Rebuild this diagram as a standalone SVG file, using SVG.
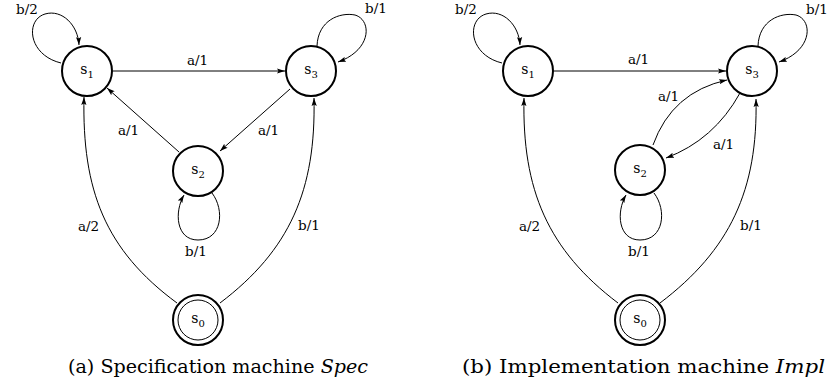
<svg xmlns="http://www.w3.org/2000/svg" width="830" height="387" viewBox="0 0 830 387">
<style>
  .st { fill: #fff; stroke: #000; stroke-width: 2; }
  .inner { fill: none; stroke: #000; stroke-width: 1; }
  .e { fill: none; stroke: #000; stroke-width: 1; marker-end: url(#ah); }
  .lb { font-size: 13.5px; }
  .nm { font-size: 14px; text-anchor: middle; }
  .sub { font-size: 10px; }
  .cap { font-size: 18.5px; }
</style>
<defs>
  <marker id="ah" viewBox="0 0 8 6" refX="8" refY="3" markerWidth="8" markerHeight="6" orient="auto" markerUnits="userSpaceOnUse">
    <path d="M0,0.4 L8,3 L0,5.6 L1.5,3 z" fill="#000"/>
  </marker>
</defs>
<rect width="830" height="387" fill="#fff"/>

<g id="connectors">
  <!-- (a) Spec -->
  <path class="e" d="M61,63 C28,55 25,20 45,14 C62,9 78,25 79,45"/>
  <path class="e" d="M113,71 L285,71"/>
  <path class="e" d="M317,46 C318,20 340,12 355,15 C372,20 372,50 338,62"/>
  <path class="e" d="M290,89 L220,151"/>
  <path class="e" d="M179,152 L107,88"/>
  <path class="e" d="M212,193 C225,210 222,240 198,240 C176,240 174,212 184,195"/>
  <path class="e" d="M177,303 C105,250 82,190 84,97"/>
  <path class="e" d="M220,303 C290,250 316,190 314,98"/>
  <!-- (b) Impl -->
  <path class="e" d="M502,63 C469,55 466,20 486,14 C503,9 519,25 520,45"/>
  <path class="e" d="M554,71 L726,71"/>
  <path class="e" d="M758,46 C759,20 781,12 796,15 C813,20 813,50 779,62"/>
  <path class="e" d="M653,145 Q672,92 727,80"/>
  <path class="e" d="M740,93 Q714,140 666,158"/>
  <path class="e" d="M654,193 C667,210 664,240 640,240 C618,240 616,212 626,195"/>
  <path class="e" d="M618,303 C548,250 522,190 524,98"/>
  <path class="e" d="M660,303 C730,250 758,190 756,99"/>

  <g font-family="DejaVu Serif, Liberation Serif, serif" fill="#000">
  <!-- labels (a) -->
  <text class="lb" x="16" y="14">b/2</text>
  <text class="lb" x="187" y="65">a/1</text>
  <text class="lb" x="365" y="13">b/1</text>
  <text class="lb" x="118" y="135">a/1</text>
  <text class="lb" x="258" y="135">a/1</text>
  <text class="lb" x="185" y="256">b/1</text>
  <text class="lb" x="78" y="231">a/2</text>
  <text class="lb" x="298" y="230">b/1</text>
  <!-- labels (b) -->
  <text class="lb" x="455" y="14">b/2</text>
  <text class="lb" x="628" y="64">a/1</text>
  <text class="lb" x="806" y="14">b/1</text>
  <text class="lb" x="658" y="101">a/1</text>
  <text class="lb" x="713" y="149">a/1</text>
  <text class="lb" x="628" y="256">b/1</text>
  <text class="lb" x="519" y="231">a/2</text>
  <text class="lb" x="740" y="230">b/1</text>
  </g>
</g>

<g font-family="DejaVu Serif, Liberation Serif, serif" fill="#000">
<!-- (a) nodes -->
<g id="a-s1"><circle class="st" cx="87" cy="71" r="25"/><text class="nm" x="87" y="74">s<tspan class="sub" dy="4">1</tspan></text></g>
<g id="a-s3"><circle class="st" cx="311" cy="71" r="25"/><text class="nm" x="311" y="74">s<tspan class="sub" dy="4">3</tspan></text></g>
<g id="a-s2"><circle class="st" cx="198" cy="171" r="25"/><text class="nm" x="198" y="174">s<tspan class="sub" dy="4">2</tspan></text></g>
<g id="a-s0"><circle class="st" cx="198" cy="320" r="25"/><circle class="inner" cx="198" cy="320" r="20"/><text class="nm" x="198" y="323">s<tspan class="sub" dy="4">0</tspan></text></g>

<!-- (b) nodes -->
<g id="b-s1"><circle class="st" cx="528" cy="71" r="25"/><text class="nm" x="528" y="74">s<tspan class="sub" dy="4">1</tspan></text></g>
<g id="b-s3"><circle class="st" cx="752" cy="71" r="25"/><text class="nm" x="752" y="74">s<tspan class="sub" dy="4">3</tspan></text></g>
<g id="b-s2"><circle class="st" cx="640" cy="170" r="25"/><text class="nm" x="640" y="173">s<tspan class="sub" dy="4">2</tspan></text></g>
<g id="b-s0"><circle class="st" cx="640" cy="320" r="25"/><circle class="inner" cx="640" cy="320" r="20"/><text class="nm" x="640" y="323">s<tspan class="sub" dy="4">0</tspan></text></g>

<g id="captions">
  <text class="cap" x="68" y="373" textLength="300" lengthAdjust="spacingAndGlyphs">(a) Specification machine <tspan font-style="italic">Spec</tspan></text>
  <text class="cap" x="462" y="373" textLength="363" lengthAdjust="spacingAndGlyphs">(b) Implementation machine <tspan font-style="italic">Impl</tspan></text>
</g>
</g>
</svg>
